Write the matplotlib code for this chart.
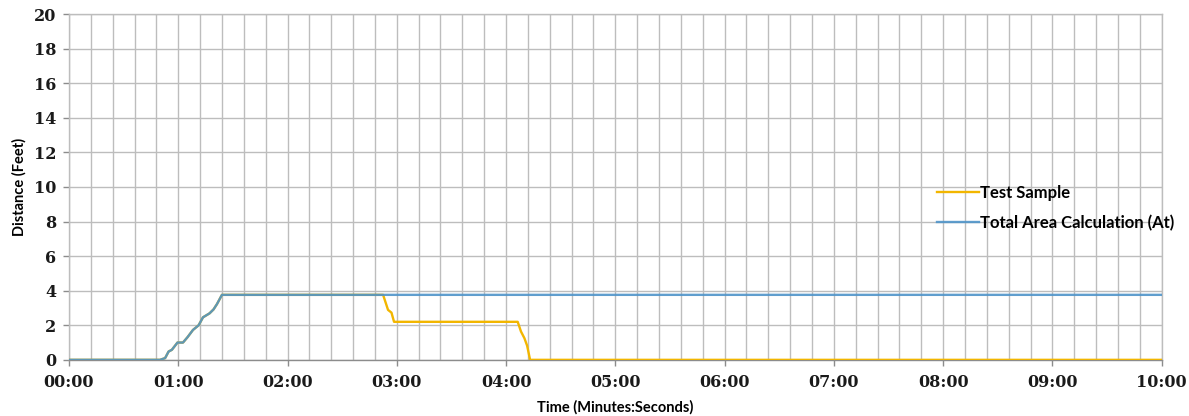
import matplotlib
matplotlib.use("Agg")
import matplotlib.pyplot as plt
from matplotlib.ticker import MultipleLocator, FuncFormatter

# values (time in seconds, distance in feet)
rise_time = [0, 50, 52.8, 54.7, 56.5, 59.6, 62.6, 65.1, 68.1, 71.2, 73.6, 77.2, 79.4, 81.3, 84.0]
rise_dist = [0, 0, 0.1, 0.48, 0.58, 1.0, 1.0, 1.31, 1.73, 2.0, 2.46, 2.69, 2.92, 3.23, 3.76]

test_time = rise_time + [172.5, 175.2, 177.1, 178.5, 246.4, 248.2, 250.1, 251.6, 253.2, 600]
test_dist = rise_dist + [3.76, 2.89, 2.73, 2.2, 2.2, 1.64, 1.25, 0.81, 0.0, 0.0]

total_time = rise_time + [600]
total_dist = rise_dist + [3.76]

labels = ["Test Sample", "Total Area Calculation (At)"]

fig = plt.figure(figsize=(11.89, 4.16), dpi=100)
ax = fig.add_axes([0.058, 0.135, 0.919, 0.831])

ax.plot(test_time, test_dist, color="#F2B600", lw=1.7, label=labels[0], zorder=3)
ax.plot(total_time, total_dist, color="#4F94C9", lw=1.7, alpha=0.9, label=labels[1], zorder=4)

ax.set_xlim(0, 600)
ax.set_ylim(0, 20)
ax.xaxis.set_major_locator(MultipleLocator(60))
ax.xaxis.set_minor_locator(MultipleLocator(12))
ax.yaxis.set_major_locator(MultipleLocator(2))
ax.xaxis.set_major_formatter(FuncFormatter(lambda v, p: "%02d:%02d" % (int(v) // 60, int(v) % 60)))

ax.grid(True, which="both", color="#BDBDBD", lw=1.0, zorder=0)
for s in ax.spines.values():
    s.set_color("#BDBDBD")
    s.set_linewidth(1.0)
ax.spines["bottom"].set_color("#8C8C8C")
ax.tick_params(axis="both", which="major", length=4, color="#8C8C8C", width=1)
ax.tick_params(axis="x", which="minor", length=0)

for lab in ax.get_xticklabels() + ax.get_yticklabels():
    lab.set_fontfamily("DejaVu Serif")
    lab.set_fontweight("bold")
    lab.set_fontsize(11.5)
    lab.set_color("#1a1a1a")
ax.tick_params(axis="x", pad=6)
ax.tick_params(axis="y", pad=5)

ax.set_xlabel("Time (Minutes:Seconds)", family="Lato", fontweight="bold", fontsize=10.5, labelpad=7)
ax.set_ylabel("Distance (Feet)", family="Lato", fontweight="bold", fontsize=10.5, labelpad=5)

leg = ax.legend(loc="center left", bbox_to_anchor=(0.787, 0.439), frameon=False,
                handlelength=2.5, handletextpad=0.05, labelspacing=0.8, borderpad=0,
                prop={"family": "Lato", "weight": "bold", "size": 12})

fig.savefig("out.png", dpi=100)
